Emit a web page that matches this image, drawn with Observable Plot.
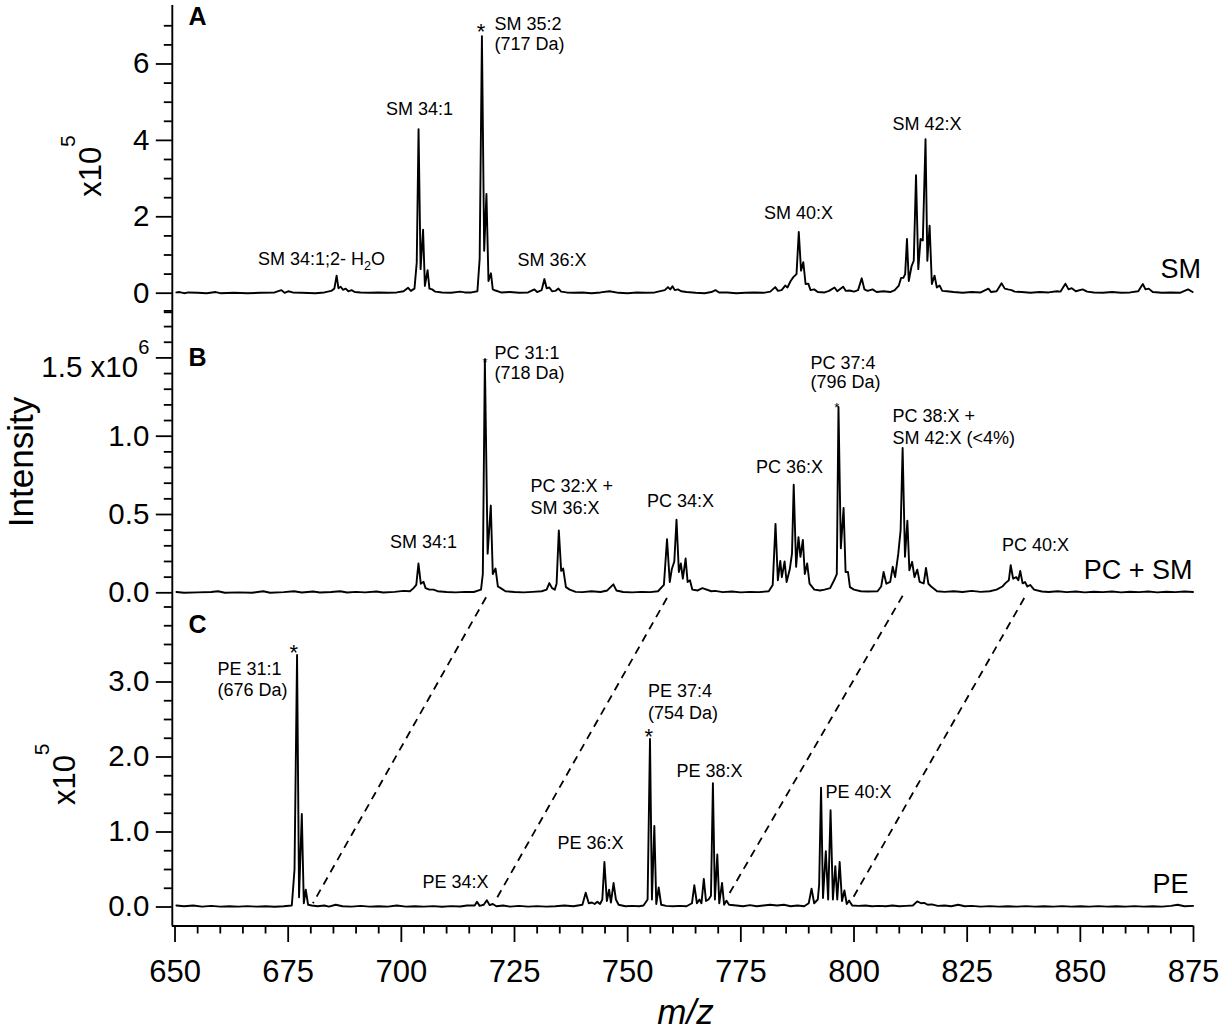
<!DOCTYPE html>
<html><head><meta charset="utf-8">
<script src="https://cdn.jsdelivr.net/npm/d3@7"></script>
<script src="https://cdn.jsdelivr.net/npm/@observablehq/plot@0.6"></script>
<style>
html,body{margin:0;padding:0;background:#fff;}
#chart{width:1221px;}
#chart svg{display:block;}
</style></head><body><div id="chart"></div>
<script>
// ---------------- axis ticks ----------------
const xMajorTicks = [650, 675, 700, 725, 750, 775, 800, 825, 850, 875];
const xMinorTicks = d3.range(650, 876, 5).filter(d => !xMajorTicks.includes(d));

const aTicks = [0, 2, 4, 6];
const aTickLabels = ["0", "2", "4", "6"];
const aMinorTicks = [-0.5, 0.5, 1, 1.5, 2.5, 3, 3.5, 4.5, 5, 5.5, 6.5, 7];
const bTicks = [0, 0.5, 1.0, 1.5];
const bTickLabels = ["0.0", "0.5", "1.0", "1.5 x10^6"];
const bMinorTicks = [0.1, 0.2, 0.3, 0.4, 0.6, 0.7, 0.8, 0.9, 1.1, 1.2, 1.3, 1.4, 1.6, 1.7, 1.8];
const cTicks = [0, 1, 2, 3];
const cTickLabels = ["0.0", "1.0", "2.0", "3.0"];
const cMinorTicks = [0.25, 0.5, 0.75, 1.25, 1.5, 1.75, 2.25, 2.5, 2.75, 3.25, 3.5, 3.75, 4];

// ---------------- panel A: SM (x10^5) ----------------
const smMz = [650.3,651,652,653,655,657,659,660,663,666,669,672,673.5,674.2,675,676,678,681,683,684.5,685.2,685.7,686.1,686.6,687.1,687.7,688.3,689,689.7,691,693,695,697,699,700.5,701.5,702.1,702.9,703.4,703.8,704.25,704.8,705.2,705.8,706.2,706.8,707.5,709,711,713,714,715.5,716.8,717.3,717.8,718.3,718.8,719.25,719.8,720.2,720.8,722,724,726,728,729.4,730,731,731.6,732.1,732.7,733.3,734,734.7,735.3,736.5,738,740,742,744,746,748,750,752,754,756,758.2,758.9,759.4,759.9,760.4,761.1,761.8,763,765,767,768.5,769.4,770.2,772,774,776,778,780,781.5,782.6,783.2,784,784.8,785.3,786,786.6,787.3,787.8,788.3,788.8,789.3,789.9,790.4,791.2,792,793.5,794.5,795.7,796.3,797.6,798.2,799,800,800.9,801.7,802.3,803,804.1,805,806.5,808,809,809.9,810.4,810.9,811.3,811.7,812.1,812.7,813.2,813.7,814.2,814.7,815.2,815.8,816.2,816.7,817.2,817.8,818.3,818.9,819.5,820.5,822,824,826,828,829.7,830.3,831.5,832.6,833.3,834,834.8,835.5,837,839,841,843,844.8,845.6,846.7,847.4,848.1,849,850.5,851.5,853,855,857,859,861,862.8,863.8,864.4,865.1,866,868,870,872,873.8,874.8];
const smInt = [0.02,0.03,0,0.02,0.01,0,0.03,0,0.01,0,0.01,0.02,0.08,0.01,0.05,0.02,0.01,0,0.02,0.06,0.12,0.46,0.13,0.17,0.09,0.12,0.05,0.08,0.03,0.02,0.01,0.02,0.01,0.02,0.05,0.14,0.06,0.12,0.8,4.29,0.63,1.66,0.19,0.6,0.12,0.1,0.04,0.02,0.01,0.04,0.02,0.02,0.05,0.9,6.73,1.11,2.6,0.32,0.52,0.1,0.07,0.02,0.03,0.01,0.02,0.1,0.03,0.08,0.37,0.13,0.15,0.05,0.06,0.12,0.04,0.02,0.01,0.02,0,0.02,0.05,0.01,0,0.02,0.01,0.02,0.08,0.16,0.1,0.18,0.08,0.1,0.05,0.03,0.01,0,0.03,0.08,0.02,0.02,0,0.01,0.02,0.01,0.04,0.16,0.06,0.08,0.2,0.15,0.32,0.42,0.5,1.6,0.59,0.81,0.24,0.25,0.08,0.1,0.03,0.02,0.06,0.15,0.05,0.17,0.06,0.07,0.04,0.08,0.39,0.1,0.06,0.1,0.03,0.05,0.03,0.08,0.2,0.4,0.4,0.5,1.42,0.32,0.7,0.85,3.09,0.63,1.42,1.38,4.03,0.85,1.77,0.24,0.46,0.15,0.2,0.06,0.05,0.03,0.01,0.03,0.02,0.12,0.03,0.05,0.26,0.12,0.1,0.08,0.04,0.03,0.01,0.03,0.02,0.05,0.04,0.25,0.1,0.13,0.05,0.1,0.04,0.02,0.01,0.03,0.01,0.02,0.05,0.24,0.1,0.12,0.03,0.01,0.02,0.01,0.1,0.03];

// ---------------- panel B: PC + SM (x10^6) ----------------
const pcMz = [650.3,652,655,658,659.5,661,664,667,669.5,671,674,676.3,678,680.5,682,684.5,686.5,688,690,692,694.5,696,698.5,700.5,701.9,702.7,703.3,703.78,704.3,704.9,705.35,706.2,707.1,708,710,712,714,716,717.6,718.0,718.45,719.06,719.76,720.2,720.81,721.33,721.95,723,725,727,729,731,732.1,732.69,733.3,733.9,734.3,734.79,735.31,735.75,736.36,737.2,738.5,740,742,744,745.5,746.84,747.5,749,751,753,755,756.7,758.0,758.69,759.3,759.74,760.3,760.79,761.31,761.75,762.19,762.8,763.24,763.76,764.29,765.5,766.5,768.5,769.3,771,773,775,777,779,781.17,782.04,782.66,783.18,783.71,784.06,784.67,785.11,785.81,786.3,786.68,787.21,787.73,788.17,788.7,789.13,789.66,790.18,791.23,792.5,793.5,794.73,795.6,796.2,796.57,797.09,797.7,798.14,798.67,799.1,800,801.5,803,805.2,806.0,806.54,807.15,808.0,808.55,809.08,809.78,810.3,810.74,811.26,811.79,812.23,812.84,813.36,813.98,814.5,815.4,815.9,816.43,817.04,818.35,820,822,824,826,828,830,831.5,832.78,833.4,834.2,834.62,835.15,835.85,836.3,836.72,837.25,837.77,838.3,838.91,839.78,841.5,843,845,847,849,851,853,855,857,859,861,863,865,867,869,871,873,874.9];
const pcInt = [0.005,0,0.003,0.005,0.01,0,0.003,0,0.01,0,0.004,0.01,0.002,0.008,0.002,0.005,0.01,0.002,0.006,0.003,0.008,0.002,0.006,0.012,0.01,0.03,0.05,0.187,0.058,0.07,0.03,0.02,0.02,0.01,0.005,0.003,0.006,0.005,0.02,0.12,1.49,0.25,0.557,0.12,0.155,0.04,0.03,0.01,0.005,0.003,0.006,0.01,0.02,0.062,0.03,0.02,0.06,0.398,0.14,0.155,0.036,0.02,0.006,0.004,0.01,0.005,0.015,0.054,0.015,0.005,0.003,0.006,0.004,0.01,0.05,0.342,0.069,0.15,0.2,0.467,0.133,0.187,0.09,0.219,0.069,0.08,0.02,0.015,0.03,0.01,0.012,0.004,0.008,0.003,0.006,0.004,0.01,0.05,0.44,0.08,0.204,0.1,0.2,0.069,0.15,0.25,0.69,0.166,0.355,0.23,0.338,0.12,0.187,0.058,0.02,0.015,0.02,0.03,0.08,0.12,1.187,0.284,0.542,0.133,0.133,0.036,0.02,0.01,0.008,0.01,0.04,0.133,0.058,0.07,0.166,0.1,0.25,0.4,0.925,0.23,0.46,0.144,0.198,0.1,0.148,0.07,0.06,0.159,0.058,0.04,0.01,0.006,0.01,0.005,0.012,0.006,0.01,0.02,0.04,0.06,0.08,0.176,0.09,0.1,0.08,0.14,0.06,0.069,0.04,0.05,0.02,0.008,0.005,0.01,0.004,0.008,0.003,0.007,0.004,0.008,0.003,0.007,0.004,0.008,0.003,0.007,0.004,0.008,0.005];

// ---------------- panel C: PE (x10^5) ----------------
const peMz = [650.3,652,654,656,658,660,662,664,666,668,670,672,674,675.8,676.4,676.96,677.4,678.01,678.45,678.89,679.4,680.2,681.5,683,684,685.5,687,689,691,693,695,697,699,701,703,705,707,709,711,713,714.5,716.2,716.71,717.3,718.2,718.89,719.5,720.2,721,722.5,724,726,728,730,732,734,736,738,740,740.73,741.4,742.1,742.7,743.3,743.9,744.4,744.86,745.4,745.9,746.3,746.88,747.4,748,749.5,751,752.5,753.5,754.4,754.93,755.36,755.89,756.32,756.85,757.4,758.5,760,761.5,763,764.2,764.72,765.3,765.86,766.3,766.82,767.3,767.87,768.4,768.83,769.27,769.8,770.23,770.85,771.3,771.81,772.4,774,775.5,777,778.5,780,781.5,783,784.5,786,787.5,789,790,790.62,791.2,792.0,792.3,792.72,793.15,793.77,794.29,794.82,795.34,795.87,796.3,796.83,797.35,797.88,798.4,798.93,799.6,801,802.5,804,805.5,807,808.5,810,811.5,813,813.97,814.8,815.5,816.3,817.2,818.5,820,821.5,823,824.5,826,828,830,832,834,836,838,840,842,844,846,848,850,852,854,856,858,860,862,864,866,868,870,871.5,873,874.9];
const peInt = [0.02,0.01,0.02,0.005,0.015,0.005,0.01,0.005,0.012,0.005,0.01,0.004,0.01,0.02,0.5,3.36,0.13,1.24,0.05,0.23,0.03,0.02,0.01,0.02,0.005,0.03,0.01,0.005,0.015,0.005,0.01,0.005,0.02,0.005,0.01,0.005,0.012,0.004,0.012,0.006,0.02,0.02,0.07,0.015,0.03,0.09,0.025,0.04,0.01,0.02,0.005,0.015,0.005,0.012,0.005,0.01,0.02,0.01,0.03,0.19,0.05,0.06,0.04,0.07,0.04,0.1,0.6,0.08,0.23,0.06,0.32,0.1,0.03,0.01,0.015,0.01,0.02,0.1,2.24,0.1,1.08,0.04,0.26,0.03,0.015,0.01,0.015,0.01,0.05,0.29,0.05,0.1,0.05,0.375,0.08,0.1,0.15,1.65,0.1,0.7,0.05,0.32,0.03,0.085,0.03,0.02,0.01,0.025,0.01,0.02,0.03,0.02,0.03,0.01,0.02,0.01,0.05,0.245,0.05,0.1,0.3,1.59,0.12,0.745,0.1,1.29,0.1,0.545,0.1,0.6,0.08,0.22,0.04,0.085,0.02,0.015,0.02,0.01,0.015,0.01,0.02,0.01,0.015,0.02,0.075,0.05,0.055,0.03,0.035,0.015,0.02,0.01,0.03,0.01,0.015,0.005,0.012,0.005,0.01,0.005,0.012,0.005,0.01,0.005,0.012,0.005,0.01,0.005,0.012,0.005,0.01,0.005,0.012,0.005,0.01,0.005,0.015,0.03,0.01,0.015];

// ---------------- annotations ----------------
const annAText = ["SM 34:1;2- H_2O", "SM 34:1", "SM 35:2", "(717 Da)", "SM 36:X", "SM 40:X", "SM 42:X"];
const annAMz = [682.36, 704.01, 720.58, 720.58, 733.28, 787.73, 816.11];
const annAVal = [0.751, 4.652, 6.877, 6.366, 0.699, 1.955, 4.259];
const annAAnchor = ["middle", "middle", "start", "start", "middle", "middle", "middle"];
const starAMz = [717.6], starAVal = [6.65];

const annBText = ["SM 34:1", "PC 31:1", "(718 Da)", "PC 32:X +", "SM 36:X", "PC 34:X", "PC 36:X", "PC 37:4", "(796 Da)", "PC 38:X +", "SM 42:X (<4%)", "PC 40:X"];
const annBMz = [704.9, 720.58, 720.58, 728.53, 728.53, 761.66, 785.74, 790.38, 790.38, 808.5, 808.5, 840.08];
const annBVal = [0.284, 1.494, 1.368, 0.642, 0.506, 0.547, 0.762, 1.432, 1.305, 1.089, 0.953, 0.27];
const annBAnchor = ["middle", "start", "start", "start", "start", "middle", "middle", "start", "start", "start", "start", "middle"];
const starBMz = [718.46, 796.21], starBVal = [1.44, 1.155];

const annCText = ["PE 31:1", "(676 Da)", "PE 34:X", "PE 36:X", "PE 37:4", "(754 Da)", "PE 38:X", "PE 40:X"];
const annCMz = [659.39, 659.39, 711.96, 741.78, 754.49, 754.49, 768.07, 793.69];
const annCVal = [3.087, 2.807, 0.247, 0.78, 2.797, 2.513, 1.731, 1.447];
const annCAnchor = ["start", "start", "middle", "middle", "start", "start", "middle", "start"];
const starCMz = [676.26, 754.66], starCVal = [3.287, 2.173];

const seriesNames = ["SM", "PC + SM", "PE"];
const seriesNameMz = [876.65, 874.8, 873.89];
const seriesNameVal = [0.385, 0.091, 0.193];
const panelLetters = ["A", "B", "C"];
const panelLetterMz = [652.98, 652.98, 652.98];
const panelLetterVal = [7.03, 1.45, 3.66];

// dashed links: PC peaks (panel B) to PE peaks (panel C), in panel C units
const linkTopMz = [718.72, 758.68, 810.75, 837.61];
const linkBottomMz = [680.46, 720.64, 771.98, 799.28];
const linkTopVal = [4.13, 4.12, 4.15, 4.12];
const linkBottomVal = [0.05, 0.07, 0.13, 0.07];

// ---------------- drawing ----------------
const FONT = "'Liberation Sans', Arial, Helvetica, sans-serif";
const W = 1221, mL = 171.8, mR = 28;
const xDomain = [649.4, 875];
const pts = (mz, v) => mz.map((m, i) => ({mz: m, v: v[i]}));
const anns = (t, mz, v, a) => t.map((s, i) => ({t: s, mz: mz[i], v: v[i], a: a ? a[i] : "start"}));

function annMarks(data, opts) {
  return ["start", "middle", "end"].map(anchor =>
    Plot.text(data.filter(d => d.a === anchor), {x: "mz", y: "v", text: "t", textAnchor: anchor, lineAnchor: "bottom", ...opts}));
}

function panel(cfg) {
  const marks = [
    Plot.ruleX([xDomain[0]], {strokeWidth: 1.9}),
    Plot.axisY({ticks: cfg.minor, tickSize: 8, tickFormat: () => "", strokeWidth: 1.8, label: null}),
    Plot.axisY({ticks: cfg.major, tickSize: 16, tickPadding: 7, fontSize: 29.5, strokeWidth: 1.8, label: null,
      tickFormat: d => cfg.majorLabels[cfg.major.indexOf(d)]}),
    Plot.line(pts(cfg.mz, cfg.val), {x: "mz", y: "v", stroke: "black", strokeWidth: 1.9}),
    ...annMarks(anns(cfg.annText, cfg.annMz, cfg.annVal, cfg.annAnchor), {fontSize: 18}),
    Plot.text(pts(cfg.starMz, cfg.starVal), {x: "mz", y: "v", text: () => "*", textAnchor: "middle", lineAnchor: "bottom", fontSize: cfg.starSize}),
    Plot.text([cfg.idx], {x: i => seriesNameMz[i], y: i => seriesNameVal[i], text: i => seriesNames[i], textAnchor: "end", lineAnchor: "bottom", fontSize: 27}),
    Plot.text([cfg.idx], {x: i => panelLetterMz[i], y: i => panelLetterVal[i], text: i => panelLetters[i], textAnchor: "start", lineAnchor: "bottom", fontSize: 25, fontWeight: "bold"}),
    Plot.text([cfg.title], {frameAnchor: "left", text: d => d, rotate: -90, textAnchor: "middle", lineAnchor: "middle",
      dx: cfg.titleDx, dy: cfg.titleDy, fontSize: cfg.titleSize}),
    ...(cfg.extra || [])
  ];
  return Plot.plot({
    width: W, height: cfg.height, marginLeft: mL, marginRight: mR,
    marginTop: cfg.marginTop, marginBottom: cfg.marginBottom,
    style: {fontFamily: FONT, background: "transparent", overflow: "visible", color: "black"},
    x: {domain: xDomain, axis: cfg.xAxis ? undefined : null},
    y: {domain: cfg.yDomain},
    marks
  });
}

const svgA = panel({idx: 0, height: 310, marginTop: 5, marginBottom: 0, yDomain: [-0.453, 7.531],
  major: aTicks, majorLabels: aTickLabels, minor: aMinorTicks, mz: smMz, val: smInt,
  annText: annAText, annMz: annAMz, annVal: annAVal, annAnchor: annAAnchor,
  starMz: starAMz, starVal: starAVal, starSize: 22,
  title: "x10^5", titleDx: -80.8, titleDy: 8, titleSize: 31});

const svgB = panel({idx: 1, height: 295, marginTop: 0, marginBottom: 0, yDomain: [-0.0811, 1.8027],
  major: bTicks, majorLabels: bTickLabels, minor: bMinorTicks, mz: pcMz, val: pcInt,
  annText: annBText, annMz: annBMz, annVal: annBVal, annAnchor: annBAnchor,
  starMz: starBMz, starVal: starBVal, starSize: 13,
  title: "Intensity", titleDx: -150.6, titleDy: 4, titleSize: 35});

const links = linkTopMz.map((m, i) => ({x1: m, y1: linkTopVal[i], x2: linkBottomMz[i], y2: linkBottomVal[i]}));
const svgC = panel({idx: 2, height: 425, marginTop: 0, marginBottom: 104.5, yDomain: [-0.2533, 4.02], xAxis: true,
  major: cTicks, majorLabels: cTickLabels, minor: cMinorTicks, mz: peMz, val: peInt,
  annText: annCText, annMz: annCMz, annVal: annCVal, annAnchor: annCAnchor,
  starMz: starCMz, starVal: starCVal, starSize: 22,
  title: "x10^5", titleDx: -106.8, titleDy: 8.5, titleSize: 31,
  extra: [
    Plot.ruleY([-0.2533], {strokeWidth: 1.9}),
    Plot.axisX({ticks: xMinorTicks, tickSize: 8, tickFormat: () => "", strokeWidth: 1.8, label: null, anchor: "bottom"}),
    Plot.axisX({ticks: xMajorTicks, tickSize: 16.5, tickPadding: 17, fontSize: 31, strokeWidth: 1.8, label: null, anchor: "bottom",
      tickFormat: d => String(d)}),
    Plot.link(links, {x1: "x1", y1: "y1", x2: "x2", y2: "y2", stroke: "black", strokeWidth: 1.8, strokeDasharray: "8,6"}),
    Plot.text(["m/z"], {frameAnchor: "bottom", text: d => d, dx: 2.6, dy: 97.8, lineAnchor: "bottom", fontSize: 35, fontStyle: "italic"})
  ]});

const chart = document.getElementById("chart");
chart.append(svgA, svgB, svgC);

// superscript / subscript rendering for "^x" and "_x"
function rich(svg) {
  const NS = "http://www.w3.org/2000/svg";
  for (const t of svg.querySelectorAll("text")) {
    const s = t.textContent;
    if (!/[\^_]/.test(s)) continue;
    const fs = parseFloat(getComputedStyle(t).fontSize) || 16;
    const parts = []; let buf = "";
    for (let i = 0; i < s.length; i++) {
      const c = s[i];
      if ((c === "^" || c === "_") && i + 1 < s.length) {
        if (buf) parts.push([buf, 0]);
        buf = "";
        parts.push([s[++i], c === "^" ? 1 : -1]);
      } else buf += c;
    }
    if (buf) parts.push([buf, 0]);
    while (t.firstChild) t.removeChild(t.firstChild);
    const base = s.startsWith("1.5 x10") ? 10 : 0;  // label sits just below its tick
    const raise = s.startsWith("x10") ? 0.85 : 0.8;
    let cur = 0, first = true;
    for (const [txt, k] of parts) {
      const ts = document.createElementNS(NS, "tspan");
      const target = k === 1 ? -raise * fs : k === -1 ? 0.28 * fs : 0;
      const d = target - cur + (first ? base : 0);
      if (d) ts.setAttribute("dy", d);
      if (k !== 0) ts.setAttribute("font-size", (k === 1 ? 0.68 : 0.7) * fs);
      ts.textContent = txt;
      t.appendChild(ts);
      cur = target; first = false;
    }
  }
}
[svgA, svgB, svgC].forEach(rich);
</script></body></html>
